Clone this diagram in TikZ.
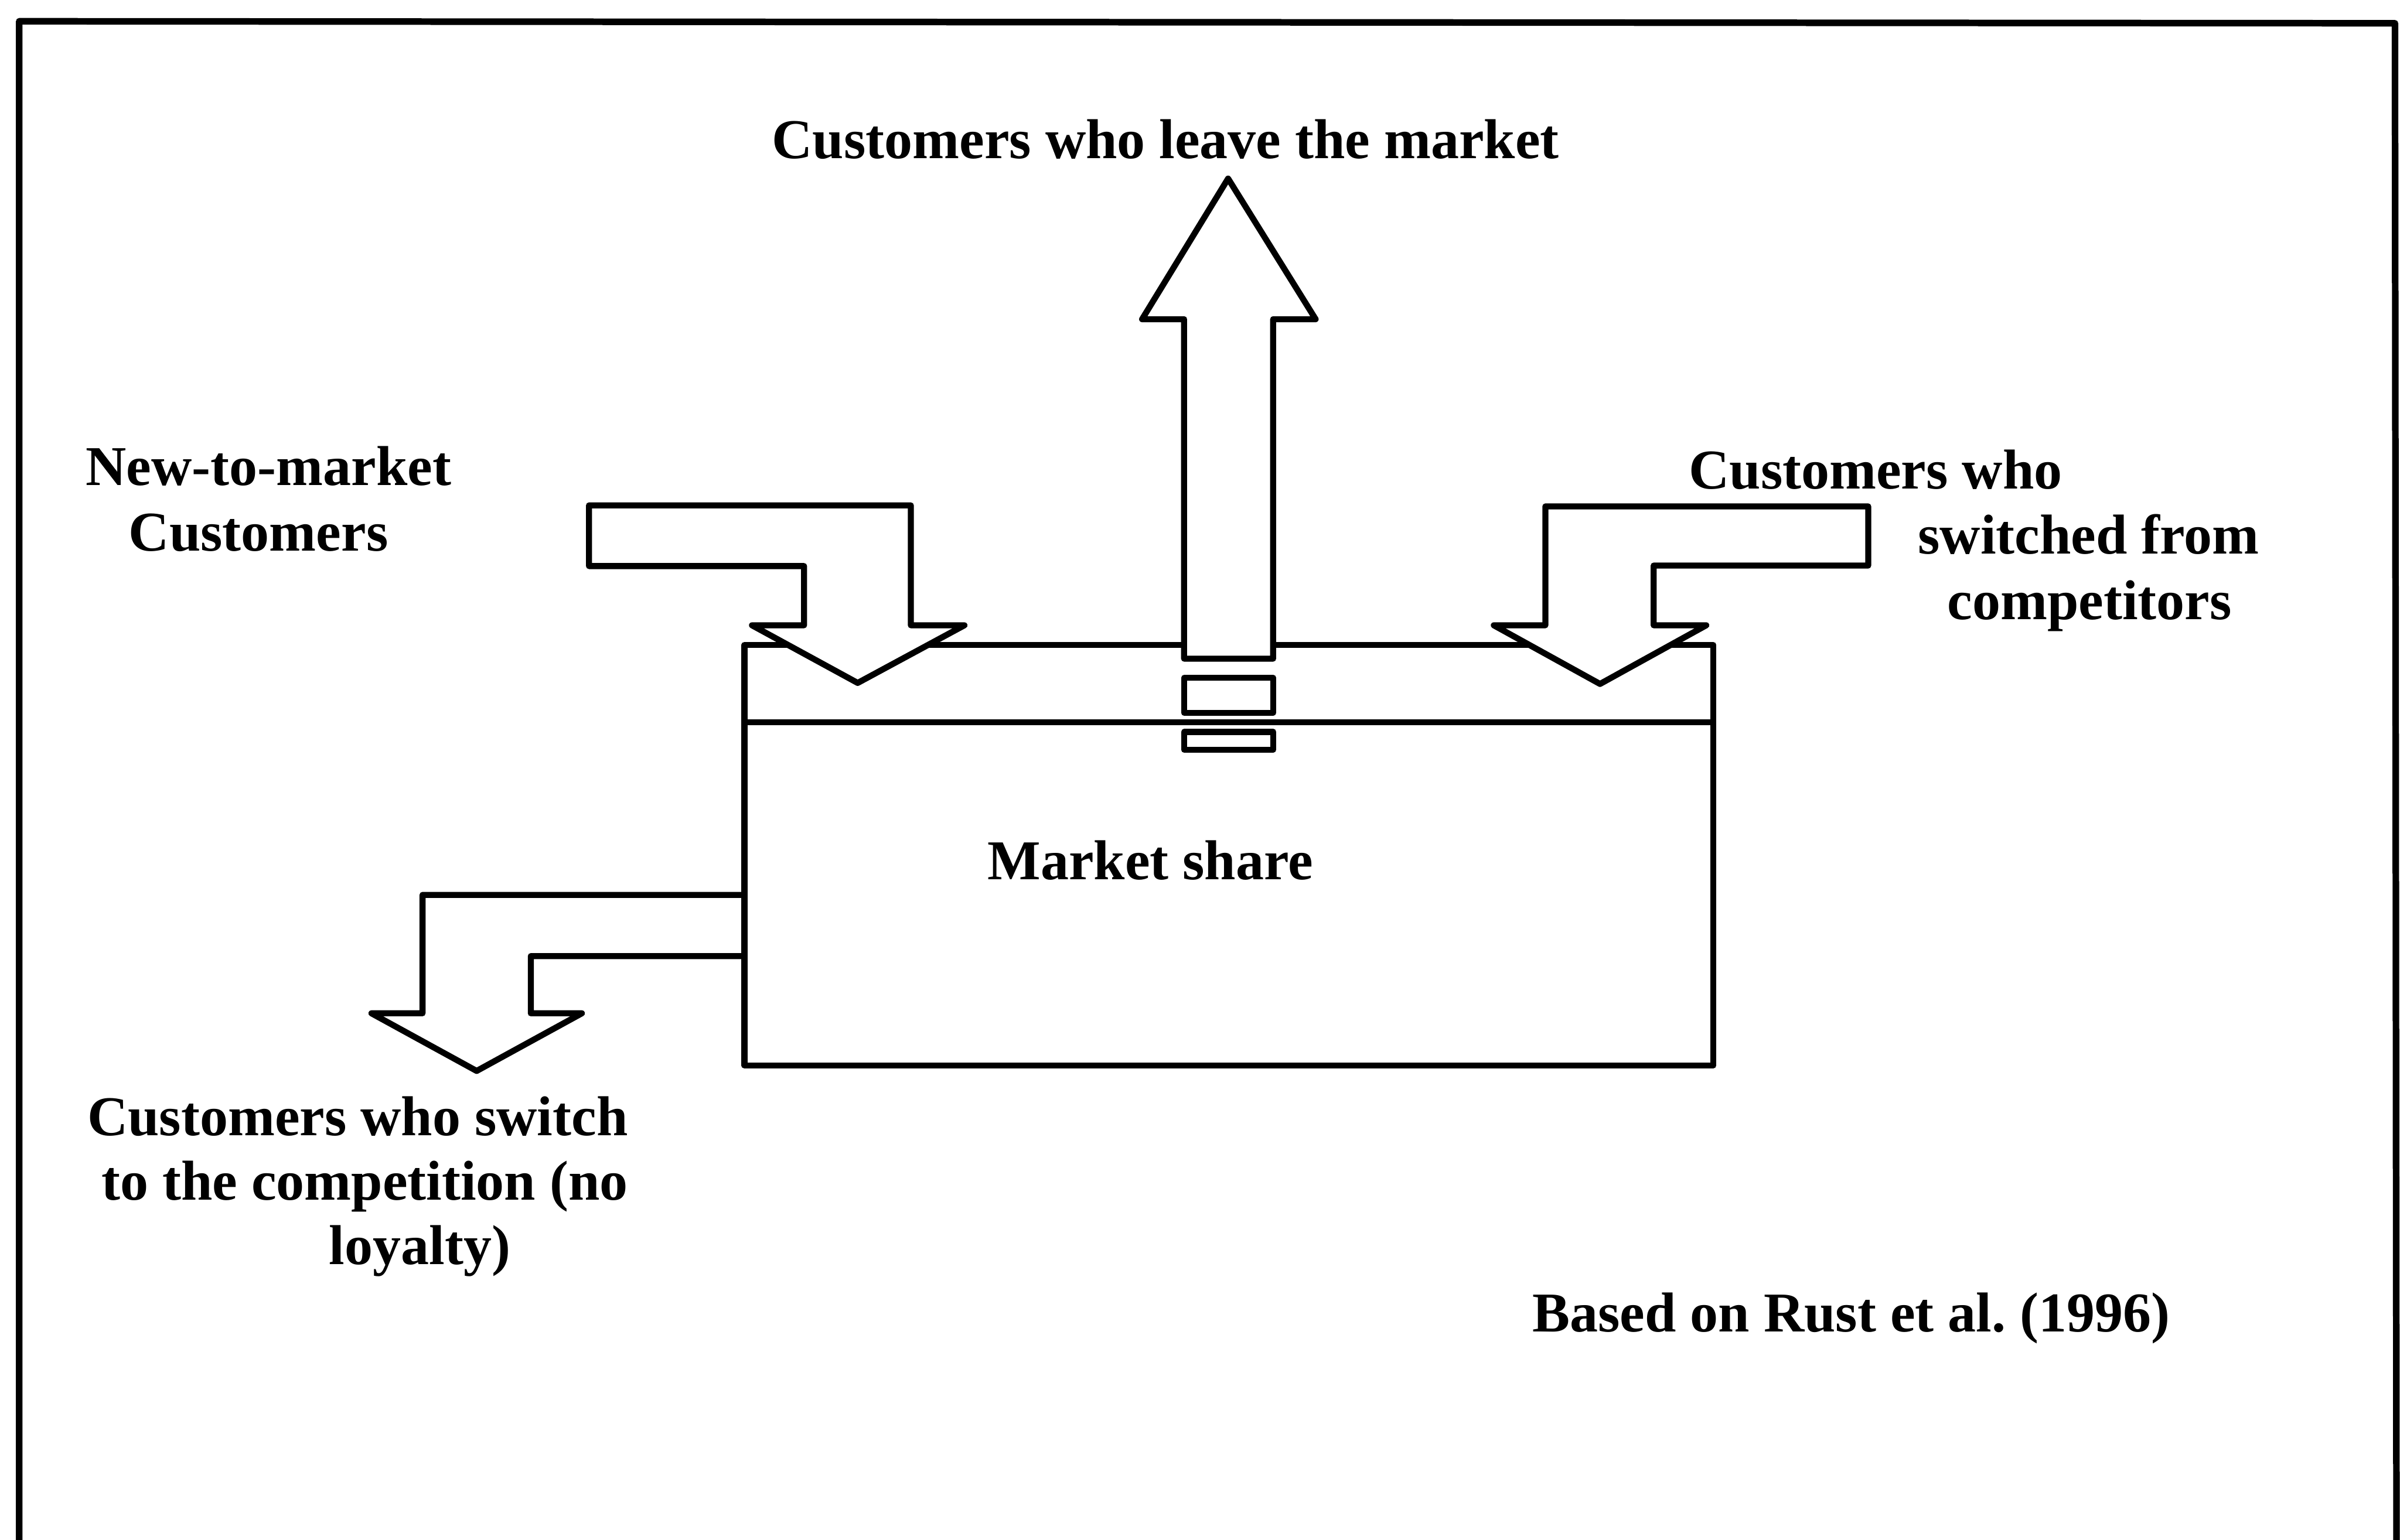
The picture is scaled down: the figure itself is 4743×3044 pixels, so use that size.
\documentclass[tikz,border=0pt]{standalone}
\usepackage{fontspec}
\setmainfont{Liberation Serif}
\frenchspacing
\begin{document}
\begin{tikzpicture}[x=0.01cm, y=-0.01cm, line join=round,
  outline/.style={draw=black, line width=3.4pt},
  block/.style={outline, fill=white},
  lbl/.style={font=\bfseries\fontsize{31.6}{37.5}\selectfont, inner sep=0pt, anchor=base west}]
\useasboundingbox (0,0) rectangle (4743,3044);

% outer frame, its lower edge runs off the page
\draw[line width=3.7pt] (38,3070) -- (38,42) -- (4733,46) -- (4736,3070);

% market share container with its upper band
\draw[block] (1471,1275) rectangle (3386,2106);
\draw[outline] (1471,1428) -- (3386,1428);

% outflow gate under the upward arrow
\draw[block] (2340,1340) rectangle (2516,1409);
\draw[block] (2340,1447) rectangle (2516,1482);

% customers leaving the market
\draw[block] (2340,1302) -- (2340,631) -- (2257,631) -- (2427,353) -- (2600,631)
  -- (2516,631) -- (2516,1302) -- cycle;

% new-to-market inflow
\draw[block] (1164,999) -- (1800,999) -- (1800,1236) -- (1906,1236) -- (1695,1350)
  -- (1486,1236) -- (1589,1236) -- (1589,1119) -- (1164,1119) -- cycle;

% inflow from competitors
\draw[block] (3692,1001) -- (3054,1001) -- (3054,1236) -- (2952,1236) -- (3162,1352)
  -- (3372,1236) -- (3268,1236) -- (3268,1118) -- (3692,1118) -- cycle;

% outflow to the competition
\draw[outline] (1471,1769) -- (835,1769) -- (835,2003) -- (734,2003) -- (942,2117)
  -- (1150,2003) -- (1049,2003) -- (1049,1890) -- (1471,1890);

% labels
\node[lbl] (leave) at (1525,313) {Customers who leave the market};
\node[lbl] (new1) at (169,959) {New-to-market};
\node[lbl] (new2) at (254,1089) {Customers};
\node[lbl] (from1) at (3337,966) {Customers who};
\node[lbl] (from2) at (3790,1095) {switched from};
\node[lbl] (from3) at (3848,1225) {competitors};
\node[lbl] (share) at (1951,1739) {Market share};
\node[lbl] (to1) at (172,2245) {Customers who switch};
\node[lbl] (to2) at (200,2372) {to the competition (no};
\node[lbl] (to3) at (650,2499) {loyalty)};
\node[lbl] (src) at (3028,2632) {Based on Rust et al. (1996)};
\end{tikzpicture}
\end{document}
